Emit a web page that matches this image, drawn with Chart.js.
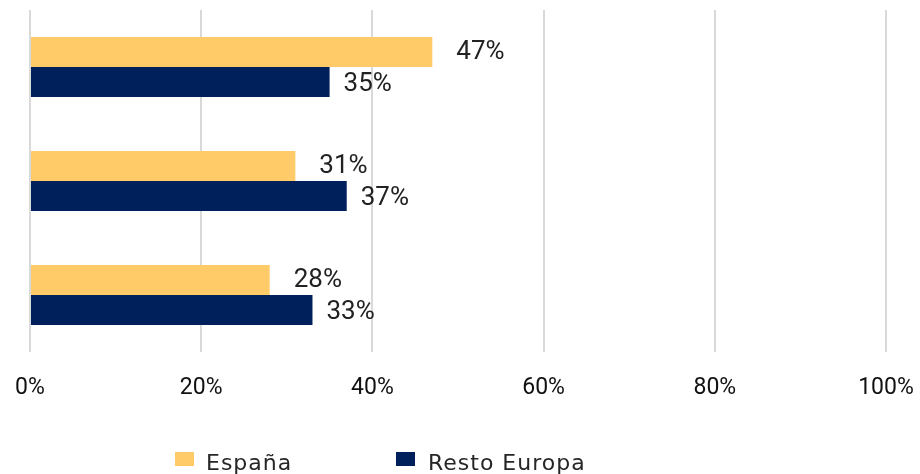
<!DOCTYPE html>
<html>
<head>
<meta charset="utf-8">
<script src="https://cdn.jsdelivr.net/npm/chart.js@4"></script>
<style>
	html, body { margin: 0; padding: 0; background: #fff; }
	#wrap { position: relative; width: 920px; height: 474px; overflow: hidden; }
	#legend { position: absolute; left: 0; top: 0; width: 920px; height: 474px; pointer-events: none; }
	.key { position: absolute; top: 452px; width: 19px; height: 14px; }
	.txt { position: absolute; top: 452px; font-family: "DejaVu Sans", sans-serif; font-size: 22px; line-height: 22px; letter-spacing: 1px; color: #262626; white-space: nowrap; }
</style>
</head>
<body>
<div id="wrap">
	<canvas id="chart" width="920" height="474"></canvas>
	<div id="legend"></div>
</div>
<script>
const categorias = ['', '', ''];
const espana = [47, 31, 28];
const restoEuropa = [35, 37, 33];
const series = ['España', 'Resto Europa'];
const colores = ['#FFCB69', '#00205C'];
const escalaMax = 100;
const escalaPaso = 20;

// etiquetas de valor a la derecha de cada barra
const valueLabels = {
	id: 'valueLabels',
	afterDatasetsDraw(chart, args, opts) {
		const ctx = chart.ctx;
		ctx.save();
		ctx.font = '26px Roboto';
		ctx.fillStyle = '#222';
		ctx.textAlign = 'left';
		ctx.textBaseline = 'middle';
		chart.data.datasets.forEach((ds, i) => {
			const meta = chart.getDatasetMeta(i);
			const off = opts.offsets[i];
			meta.data.forEach((bar, j) => {
				ctx.fillText(ds.data[j] + '%', bar.x + off.dx, bar.y + off.dy);
			});
		});
		ctx.restore();
	}
};

const ctx = document.getElementById('chart').getContext('2d');
const chart = new Chart(ctx, {
	type: 'bar',
	data: {
		labels: categorias,
		datasets: [
			{label: series[0], data: espana, backgroundColor: colores[0]},
			{label: series[1], data: restoEuropa, backgroundColor: colores[1]},
		]
	},
	options: {
		indexAxis: 'y',
		responsive: false,
		animation: false,
		categoryPercentage: 0.526,
		barPercentage: 1,
		layout: {padding: {top: 10, left: 30, right: 34, bottom: 72}},
		plugins: {
			legend: {display: false},
			tooltip: {enabled: false},
			valueLabels: {offsets: [{dx: 24, dy: 0}, {dx: 14, dy: 3}]},
		},
		scales: {
			x: {
				min: 0,
				max: escalaMax,
				grid: {color: '#d9d9d9', lineWidth: 2, drawTicks: false},
				border: {display: false},
				ticks: {
					stepSize: escalaPaso,
					padding: 22,
					color: '#111',
					font: {family: 'Roboto', size: 23},
					maxRotation: 0,
					callback: (v) => v + '%',
				},
				afterFit: (scale) => {
					// el area del grafico la fija el padding, no las etiquetas
					scale.paddingLeft = 0;
					scale.paddingRight = 0;
					scale.height = 50;
				}
			},
			y: {display: false}
		}
	},
	plugins: [valueLabels]
});

// leyenda en html
const legendPos = [{box: 175, text: 206}, {box: 396, text: 428}];
$legend = document.getElementById('legend');
series.forEach((name, i) => {
	$legend.insertAdjacentHTML('beforeend',
		`<div class="key" style="left:${legendPos[i].box}px;background:${colores[i]}"></div>` +
		`<div class="txt" style="left:${legendPos[i].text}px">${name}</div>`);
});
</script>
</body>
</html>
